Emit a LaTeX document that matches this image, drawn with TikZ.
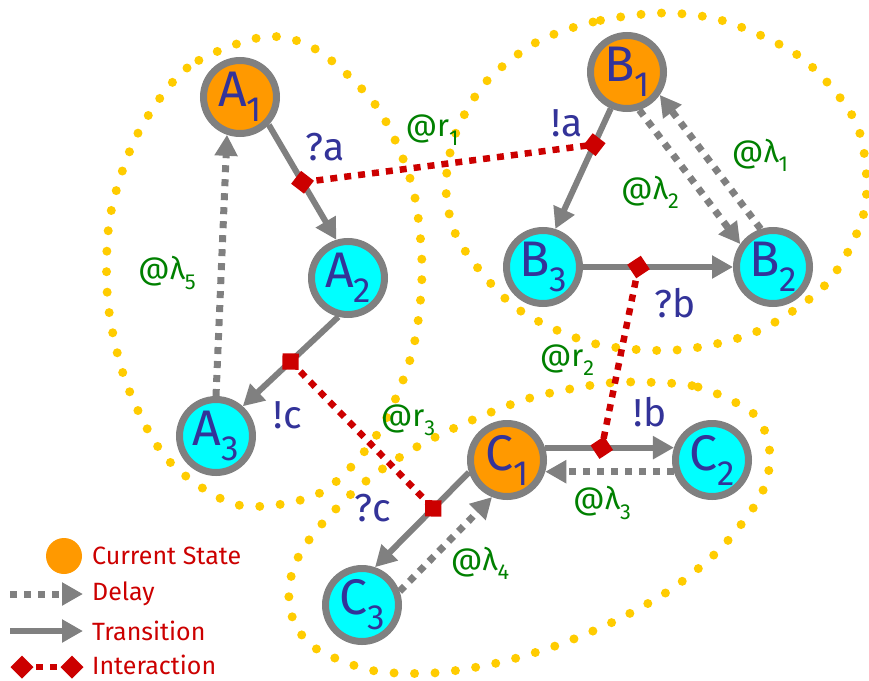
\documentclass[tikz,border=0pt]{standalone}
\usepackage{fontspec}
\setmainfont{Fira Sans}
\usetikzlibrary{arrows.meta,shapes.geometric,calc}
\definecolor{gry}{RGB}{128,128,128}
\definecolor{orng}{RGB}{255,153,0}
\definecolor{cyn}{RGB}{0,255,255}
\definecolor{nblue}{RGB}{51,51,153}
\definecolor{grn}{RGB}{0,128,0}
\definecolor{redc}{RGB}{204,0,0}
\definecolor{ylw}{RGB}{255,204,0}
\newcommand\sbs[1]{\raisebox{-0.3em}{\scalebox{0.7}{#1}}}
\newcommand\statefont{\fontsize{50}{50}\selectfont}
\newcommand\lblfont{\fontsize{39}{39}\selectfont}
\newcommand\ratefont{\fontsize{31}{31}\selectfont}
\newcommand\legfont{\fontsize{25}{25}\selectfont}
\tikzset{
 state/.style={circle, draw=gry, line width=7pt, minimum size=73pt, inner sep=0pt, outer sep=3.5pt, text=nblue, font=\statefont},
 cur/.style={state, fill=orng},
 oth/.style={state, fill=cyn},
 trans/.style={draw=gry, line width=6pt, -{Triangle[length=21pt,width=22pt]}},
 delay/.style={draw=gry, line width=7pt, dash pattern=on 7pt off 7pt, -{Triangle[length=21pt,width=22pt]}},
 inter/.style={draw=redc, line width=6.5pt, dash pattern=on 7pt off 7pt},
 imark/.style={diamond, fill=redc, draw=none, minimum width=23pt, minimum height=23pt, inner sep=0pt, outer sep=0pt, sloped},
 blob/.style={draw=ylw, line width=9pt, line cap=round, dash pattern=on 0pt off 20.5pt},
 lab/.style={text=nblue, font=\lblfont, inner sep=0pt},
 rate/.style={text=grn, font=\ratefont, inner sep=0pt},
 legt/.style={text=redc, font=\legfont, anchor=west, inner sep=0pt},
}
\begin{document}
\begin{tikzpicture}[x=1pt,y=-1pt]
\useasboundingbox (0,0) rectangle (869,680);
% boundaries
\draw[blob] plot[smooth cycle] coordinates {(263,37) (187,68) (137,135) (110,217) (108,303) (127,385) (168,460) (238,505) (320,493) (378,433) (412,353) (422,270) (412,185) (377,107) (317,50)};
\draw[blob] plot[smooth cycle] coordinates {(663,13) (593,22) (535,43) (485,83) (455,135) (446,190) (460,243) (515,307) (592,343) (677,350) (758,331) (828,282) (865,208) (857,125) (803,59) (727,22)};
\draw[blob] plot[smooth cycle] coordinates {(635,382) (698,387) (755,415) (770,455) (760,497) (722,547) (673,588) (617,620) (558,645) (497,663) (433,673) (370,670) (312,646) (290,610) (293,569) (315,532) (360,486) (413,449) (470,421) (530,398) (593,385)};
% states
\node[cur] (A1) at (240,97) {A\sbs{1}};
\node[oth] (A2) at (348,278) {A\sbs{2}};
\node[oth] (A3) at (216,436) {A\sbs{3}};
\node[cur] (B1) at (627,72) {B\sbs{1}};
\node[oth] (B2) at (773,267) {B\sbs{2}};
\node[oth] (B3) at (543,267) {B\sbs{3}};
\node[cur] (C1) at (507,460) {C\sbs{1}};
\node[oth] (C2) at (712,460) {C\sbs{2}};
\node[oth] (C3) at (362,605) {C\sbs{3}};
% transitions
\draw[trans] (A1.316) -- (A2.107);
\draw[trans] (A2.256) -- (A3.48);
\draw[trans] (B1.246) -- (B3.72);
\draw[trans] (B3.east) -- (B2.west);
\draw[trans] (C1.18) -- (C2.162);
\draw[trans] (C1.198) -- (C3.71);
% delays
\draw[delay] (A3.north) -- (A1.251);
\draw[delay] (B1.288) -- (B2.145);
\draw[delay] (B2.108) -- (B1.325);
\draw[delay] (C2.197) -- (C1.343);
\draw[delay] (C3.20) -- (C1.248);
% interaction points
\coordinate (ia) at ($(A1.316)!0.5!(A2.107)$);
\coordinate (oc) at ($(A2.256)!0.5!(A3.48)$);
\coordinate (oa) at ($(B1.246)!0.3!(B3.72)$);
\coordinate (ib) at ($(B3.east)!0.37!(B2.west)$);
\coordinate (ob) at ($(C1.18)!0.44!(C2.162)$);
\coordinate (ic) at ($(C1.198)!0.38!(C3.71)$);
\draw[inter] (ia) -- node[imark,pos=0] (mia) {} node[imark,pos=1] (moa) {} (oa);
\draw[inter] (ib) -- node[imark,pos=0] (mib) {} node[imark,pos=1] (mob) {} (ob);
\draw[inter] (oc) -- node[imark,pos=0] (moc) {} node[imark,pos=1] (mic) {} (ic);
% labels
\node[lab] (lqa) at (325,147) {?a};
\node[lab] (lea) at (567,123) {!a};
\node[lab] (lqb) at (675,303) {?b};
\node[lab] (leb) at (650,412) {!b};
\node[lab] (lec) at (288,415) {!c};
\node[lab] (lqc) at (373,508) {?c};
\node[rate] (lr1) at (432,130) {@r\sbs{1}};
\node[rate] (lr2) at (567,360) {@r\sbs{2}};
\node[rate] (lr3) at (408,420) {@r\sbs{3}};
\node[rate] (ll1) at (760,155) {@λ\sbs{1}};
\node[rate] (ll2) at (650,192) {@λ\sbs{2}};
\node[rate] (ll3) at (602,503) {@λ\sbs{3}};
\node[rate] (ll4) at (480,563) {@λ\sbs{4}};
\node[rate] (ll5) at (167,273) {@λ\sbs{5}};
% legend
\node[circle, fill=orng, minimum size=36pt, inner sep=0pt] (lgcs) at (64,556) {};
\node[legt] (lgcst) at (92,556) {Current State};
\coordinate (ld1) at (10,594); \coordinate (ld2) at (83,594);
\draw[delay] (ld1) -- (ld2);
\node[legt] (lgd) at (92,594) {Delay};
\coordinate (lt1) at (10,631); \coordinate (lt2) at (83,631);
\draw[trans] (lt1) -- (lt2);
\node[legt] (lgt) at (92,631) {Transition};
\coordinate (li1) at (22,667); \coordinate (li2) at (72,667);
\draw[inter] (li1) -- node[imark,pos=0] (lgm1) {} node[imark,pos=1] (lgm2) {} (li2);
\node[legt] (lgi) at (92,665) {Interaction};
\end{tikzpicture}
\end{document}
